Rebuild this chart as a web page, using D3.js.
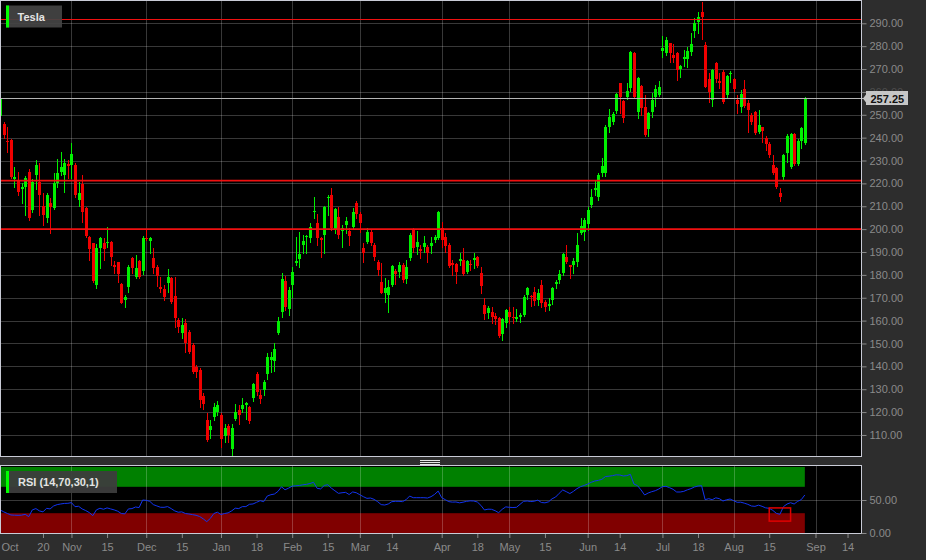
<!DOCTYPE html>
<html><head><meta charset="utf-8">
<script src="https://cdn.jsdelivr.net/npm/d3@7"></script>
<style>
html,body{margin:0;padding:0;background:#2d2d2d;}
svg{display:block;font-family:"Liberation Sans",Arial,Helvetica,sans-serif;}
</style></head><body>
<svg id="chart" width="926" height="560"></svg>
<script>
// ---------------- DATA ----------------
const symbolName = "Tesla";
const rsiName = "RSI (14,70,30,1)";
const firstDay = "2022-10-03";
const holidays = ["2022-11-24","2022-12-26","2023-01-02","2023-01-16","2023-02-20","2023-04-07","2023-05-29","2023-06-19","2023-07-04"];

const open = [254.5,249.5,245.8,238.6,239.0,221.8,221.5,217.4,218.6,225.1,
208.4,223.7,220.7,210.1,204.7,211.3,209.1,220.0,225.1,223.7,
228.4,228.0,228.0,212.7,219.7,209.1,196.7,193.8,175.6,191.6,
194.1,193.8,194.5,184.3,185.5,176.0,168.8,174.8,187.2,179.2,
186.1,181.8,196.3,194.9,187.5,183.6,174.8,173.7,176.3,178.5,
170.8,160.3,154.5,158.8,155.2,149.3,139.8,138.4,127.0,116.5,
112.1,117.7,119.9,118.7,109.5,114.1,103.7,117.1,121.0,121.5,
123.0,122.4,126.0,136.5,127.5,129.7,136.7,142.8,142.3,154.4,
163.9,177.5,164.9,175.6,185.0,187.0,193.0,196.5,196.3,207.5,
202.5,196.3,197.4,213.5,214.9,199.6,205.4,199.0,201.8,199.3,
201.1,211.6,206.5,191.6,194.5,198.9,193.1,185.8,176.7,172.2,
171.2,175.6,181.5,181.4,184.3,178.2,187.2,199.6,192.3,191.5,
192.3,192.3,192.6,195.2,196.0,200.3,196.4,193.1,185.0,184.8,
186.2,186.5,181.4,184.8,186.6,187.9,180.7,166.8,163.5,163.9,
162.0,161.0,154.2,159.1,163.9,161.6,160.5,161.4,162.4,171.2,
170.9,172.5,169.0,175.6,168.3,166.5,169.0,176.0,177.8,181.0,
188.0,184.2,184.3,185.8,198.5,198.9,202.1,210.6,217.3,214.2,
224.4,224.4,244.8,246.7,251.7,263.8,256.2,257.9,261.6,277.2,
251.0,262.6,253.3,243.6,251.4,257.6,258.7,278.0,277.2,281.2,
276.0,277.2,269.9,274.4,274.2,277.6,286.8,290.7,295.1,280.5,
265.5,256.5,272.8,264.8,268.9,258.7,267.8,265.5,256.5,253.5,
261.1,255.3,249.9,251.4,242.6,244.5,239.7,237.2,228.0,226.6,
215.6,222.6,233.4,227.0,241.5,228.5,238.7,237.8];

const high = [255.2,257.5,246.8,244.7,239.2,227.0,225.1,220.0,223.2,226.2,
221.8,230.2,228.8,215.7,215.7,213.5,224.4,230.5,233.9,230.5,
230.2,237.5,228.8,220.7,223.7,209.8,196.9,194.0,193.5,196.7,
196.0,201.1,194.7,186.2,185.8,176.6,171.2,184.3,187.9,188.7,
186.5,197.0,199.6,196.7,191.6,184.3,179.2,175.6,182.6,179.2,
179.2,161.0,161.0,160.6,155.9,150.0,140.6,139.1,128.5,119.7,
116.5,123.8,124.8,119.5,114.6,114.6,114.6,123.5,122.9,126.0,
124.5,122.7,132.6,137.7,129.7,134.0,145.7,146.4,150.1,161.7,
180.7,179.5,174.6,183.3,196.7,198.9,197.4,197.4,202.8,213.9,
206.5,196.7,210.1,214.9,217.8,209.1,209.8,201.8,205.2,200.3,
209.1,212.4,207.6,193.8,200.3,199.6,194.1,186.5,185.0,178.5,
177.8,184.3,182.4,185.8,185.0,186.5,198.4,200.6,199.3,193.1,
197.1,193.1,196.4,197.4,208.1,203.2,198.5,193.8,186.5,185.0,
189.4,191.6,186.5,186.5,189.7,188.2,183.6,169.7,166.4,166.1,
163.2,161.4,161.0,165.1,166.1,166.1,165.0,163.2,171.2,174.8,
171.2,174.8,173.7,177.8,169.0,169.7,174.8,177.8,182.1,189.4,
193.0,184.3,187.2,198.5,204.7,204.7,209.8,217.4,221.5,224.4,
231.0,245.5,252.4,251.4,259.7,264.0,256.5,263.8,278.0,277.6,
266.4,263.0,258.7,251.4,259.7,263.0,264.8,284.4,284.2,281.5,
280.9,277.6,271.8,278.3,279.8,285.6,292.2,295.1,299.5,281.7,
268.1,269.9,273.2,268.1,269.6,267.4,269.3,265.9,258.7,260.8,
265.2,256.5,250.6,251.8,252.1,244.8,240.7,238.3,232.4,227.3,
217.8,232.9,241.5,241.9,241.9,239.3,244.8,257.6];

const low = [241.0,241.2,240.0,233.9,222.2,218.5,214.9,211.6,206.2,204.0,
207.6,217.4,206.2,201.8,203.2,198.4,208.7,218.6,223.7,216.4,
222.2,222.2,214.2,210.1,203.2,196.7,186.5,177.0,174.1,182.9,
186.5,192.3,184.3,180.9,177.0,167.6,166.1,172.6,180.7,178.5,
178.5,180.4,195.2,189.7,180.7,175.3,172.6,169.0,172.6,167.6,
157.1,155.2,152.3,146.4,145.7,137.0,135.5,122.4,121.2,107.5,
108.5,116.5,118.7,104.9,107.1,107.1,101.2,116.5,115.0,120.2,
116.8,115.4,125.0,127.5,124.1,127.5,134.3,137.7,138.1,154.1,
161.7,164.6,162.4,170.5,184.3,183.6,189.7,189.7,194.5,204.7,
193.0,187.7,189.4,206.2,199.6,198.2,196.0,192.3,198.2,193.1,
200.3,204.7,198.9,185.8,193.8,193.1,186.5,180.0,171.9,168.3,
163.9,175.1,176.0,179.2,177.0,176.3,186.5,190.1,189.1,187.2,
190.1,185.5,189.4,194.5,195.5,192.3,190.1,183.6,179.9,176.3,
184.5,179.9,180.9,182.1,182.9,183.6,171.9,160.6,161.0,158.8,
158.5,152.7,151.5,157.4,158.8,158.8,159.8,159.5,161.9,169.3,
166.4,166.8,166.8,166.1,164.3,164.7,167.3,174.1,176.6,180.0,
185.0,178.5,180.7,183.9,197.9,195.2,199.6,209.8,214.9,212.7,
223.4,223.4,242.3,246.0,250.9,250.6,247.0,256.8,260.5,257.2,
248.4,249.9,240.7,240.7,248.9,253.9,258.2,275.1,276.1,273.2,
273.2,265.2,266.6,271.4,271.0,276.1,283.9,285.6,283.0,262.0,
255.7,253.8,264.5,261.6,255.0,257.9,264.5,260.5,250.6,251.4,
253.3,242.6,246.0,241.6,242.2,238.3,234.6,231.7,224.1,217.8,
212.5,221.5,229.5,226.6,228.1,228.1,235.3,237.2];

const close = [242.4,257.2,241.0,238.2,222.9,222.9,216.4,218.6,222.2,204.7,
220.7,228.0,214.9,206.2,214.9,209.8,220.0,224.7,227.0,228.8,
227.5,232.7,214.9,215.7,207.6,197.0,191.2,177.5,191.6,196.0,
191.2,194.5,187.7,183.3,180.4,167.8,170.2,183.6,183.1,182.9,
179.2,196.0,195.8,196.0,182.9,179.7,173.7,170.5,178.9,168.3,
161.0,157.3,158.1,150.1,146.4,137.7,137.7,125.3,123.5,107.8,
113.9,122.4,123.1,108.1,112.9,110.0,112.9,119.9,118.9,123.2,
124.1,116.3,132.1,128.6,125.6,133.3,143.9,144.2,147.6,160.0,
178.1,166.1,173.4,181.4,186.0,189.0,194.8,197.0,201.1,208.1,
196.3,195.2,209.8,214.2,200.3,208.7,197.4,200.5,203.7,197.0,
207.6,206.5,202.5,189.7,198.6,193.8,187.7,182.1,172.2,174.1,
174.5,183.9,180.4,184.3,177.8,183.3,197.4,191.6,194.5,190.5,
193.8,189.4,194.1,196.4,207.6,195.3,192.6,183.9,184.3,181.4,
186.8,180.4,186.2,184.3,187.2,184.0,175.1,162.9,165.4,161.7,
160.6,153.3,160.6,164.6,161.7,161.0,161.5,162.4,170.5,174.1,
170.4,168.5,172.2,167.8,166.1,167.3,174.1,177.0,180.2,189.0,
185.8,183.6,186.2,193.1,201.4,204.0,208.4,213.9,217.8,223.5,
227.8,244.8,248.9,250.4,259.1,257.6,248.4,260.5,277.6,257.9,
266.0,252.8,241.2,250.9,256.5,261.1,262.3,279.0,282.7,277.2,
274.8,269.6,271.3,275.2,278.0,280.9,290.3,292.6,292.6,262.3,
260.1,269.6,265.5,263.8,255.7,266.9,268.4,261.1,254.7,259.1,
253.8,252.1,247.0,241.9,245.5,243.1,237.2,232.4,224.7,218.3,
213.9,232.4,240.7,241.5,228.5,238.7,244.1,257.25];

const rsi = [35.5,34.9,32.0,29.5,27.3,27.0,26.8,27.0,28.3,24.8,
35.0,37.0,33.5,32.0,37.4,36.5,41.0,43.0,44.0,44.8,
45.0,46.0,39.9,40.5,36.5,34.0,31.0,26.3,35.0,37.5,
36.0,38.0,36.5,35.0,33.0,29.5,29.0,36.5,37.0,39.4,
38.5,50.0,49.5,48.0,43.0,41.0,39.0,38.9,40.0,37.0,
33.5,31.5,32.0,29.5,28.8,27.8,26.8,25.0,21.5,17.2,
22.0,29.5,31.5,28.0,29.5,30.5,33.5,37.6,37.0,40.0,
40.0,43.5,44.0,46.5,49.0,47.5,56.0,58.0,59.0,63.0,
70.0,65.5,68.0,71.0,71.5,72.0,73.0,73.7,75.0,76.8,
67.7,66.8,72.0,73.2,68.0,64.0,60.1,61.0,61.6,58.3,
62.2,61.0,58.0,55.0,52.5,53.0,51.0,47.5,43.0,42.4,
44.0,47.5,48.0,48.0,47.5,50.5,56.0,53.5,53.5,53.5,
53.5,53.0,55.0,58.5,63.5,53.5,50.5,47.5,46.8,47.0,
45.7,46.7,48.0,48.7,48.5,47.0,41.9,34.9,36.1,35.9,
33.8,30.8,35.9,39.6,38.9,38.6,38.9,43.4,48.0,48.5,
47.7,48.2,49.8,46.2,45.7,47.2,51.8,54.5,60.1,65.2,
62.6,59.8,63.1,67.2,70.2,72.0,74.2,76.8,78.8,79.8,
81.3,85.6,86.1,86.9,88.1,87.9,86.4,86.9,88.9,74.2,
71.7,65.2,57.6,60.6,62.6,64.1,66.7,70.2,70.7,68.7,
66.2,62.1,62.1,63.1,65.4,67.2,69.7,71.2,71.7,50.5,
52.0,50.5,53.3,52.0,48.5,50.3,51.5,49.0,46.5,46.7,
45.2,43.4,40.9,40.4,42.2,40.4,38.1,37.4,34.3,29.8,
28.3,39.9,43.9,45.9,43.9,48.0,50.5,57.6];

const priceTicks = [110,120,130,140,150,160,170,180,190,200,210,220,230,240,250,260,270,280,290];
const rsiTicks = [0, 50];
const rsiLevels = [30, 70];
const priceLevels = [291.75, 221.2, 200];
const lastPrice = 257.25;
const tickDates = ["2022-10-03","2022-10-20","2022-11-01","2022-11-15","2022-12-01","2022-12-15",
  "2023-01-03","2023-01-18","2023-02-01","2023-02-15","2023-03-01","2023-03-14","2023-04-03","2023-04-18",
  "2023-05-01","2023-05-15","2023-06-01","2023-06-14","2023-07-03","2023-07-18","2023-08-01","2023-08-15",
  "2023-09-01","2023-09-14"];
const tickLabels = ["Oct","20","Nov","15","Dec","15","Jan","18","Feb","15","Mar","14","Apr","18",
  "May","15","Jun","14","Jul","18","Aug","15","Sep","14"];
const monthStarts = ["2022-11-01","2022-12-01","2023-01-03","2023-02-01","2023-03-01","2023-04-03",
  "2023-05-01","2023-06-01","2023-07-03","2023-08-01","2023-09-01"];
const signalBox = {from: "2023-08-15", to: "2023-08-23", lo: 18, hi: 38};

// ---------------- LAYOUT / STYLE ----------------
const main = {left: 0, right: 861, top: 1, bottom: 456};
const sub = {top: 466, bottom: 534};
const UP = "#00f000", DOWN = "#f00000";
const GRID = "#ffffff", GRID_OP = 0.22;
const AXIS_TXT = "#8a8a8a";
const BORDER = "#c9cbd6";

function tradingDays(startISO, count, skip) {
  const out = []; const d = new Date(startISO + "T00:00:00Z");
  while (out.length < count) {
    const dow = d.getUTCDay(); const iso = d.toISOString().slice(0, 10);
    if (dow !== 0 && dow !== 6 && !skip.includes(iso)) out.push(iso);
    d.setUTCDate(d.getUTCDate() + 1);
  }
  return out;
}
const days = tradingDays(firstDay, 250, holidays);
const dayIdx = new Map(days.map((d, i) => [d, i]));
const idx = d3.range(close.length);

const svg = d3.select("#chart");
svg.append("rect").attr("width", 926).attr("height", 560).attr("fill", "#2d2d2d");

const x = d3.scaleLinear().domain([0.927, 242.78]).range([main.left, main.right]);
const y = d3.scaleLinear().domain([100.8, 299.75]).range([main.bottom, main.top]);
const yr = d3.scaleLinear().domain([0, 100]).range([533, 467]);

const defs = svg.append("defs");
defs.append("clipPath").attr("id", "clipMain").append("rect")
  .attr("x", main.left + 1).attr("y", main.top).attr("width", main.right - main.left - 1).attr("height", main.bottom - main.top);
defs.append("clipPath").attr("id", "clipSub").append("rect")
  .attr("x", main.left + 1).attr("y", sub.top).attr("width", main.right - main.left - 1).attr("height", sub.bottom - sub.top);

// ---------- main panel ----------
svg.append("rect").attr("x", main.left).attr("y", main.top).attr("width", main.right - main.left)
  .attr("height", main.bottom - main.top).attr("fill", "#000");

const gm = svg.append("g").attr("clip-path", "url(#clipMain)");
const px = v => Math.round(x(v));

gm.append("g").selectAll("line").data(priceTicks).join("line")
  .attr("x1", main.left).attr("x2", main.right)
  .attr("y1", d => Math.round(y(d)) + 0.5).attr("y2", d => Math.round(y(d)) + 0.5)
  .attr("stroke", GRID).attr("stroke-opacity", GRID_OP);
gm.append("g").selectAll("line").data(monthStarts).join("line")
  .attr("x1", d => px(dayIdx.get(d)) + 0.5).attr("x2", d => px(dayIdx.get(d)) + 0.5)
  .attr("y1", main.top).attr("y2", main.bottom)
  .attr("stroke", GRID).attr("stroke-opacity", GRID_OP);

// candles
const cg = gm.append("g").attr("shape-rendering", "crispEdges");
cg.selectAll("line").data(idx).join("line")
  .attr("x1", i => px(i) + 0.5).attr("x2", i => px(i) + 0.5)
  .attr("y1", i => Math.round(y(high[i]))).attr("y2", i => Math.round(y(low[i])) + 1)
  .attr("stroke", i => close[i] >= open[i] ? UP : DOWN).attr("stroke-width", 1);
cg.selectAll("rect").data(idx).join("rect")
  .attr("x", i => px(i) - 1).attr("width", 3)
  .attr("y", i => Math.round(y(Math.max(open[i], close[i]))))
  .attr("height", i => Math.max(1, Math.round(y(Math.min(open[i], close[i]))) - Math.round(y(Math.max(open[i], close[i])))))
  .attr("fill", i => close[i] >= open[i] ? UP : DOWN);

// horizontal levels
gm.append("g").selectAll("line").data(priceLevels).join("line")
  .attr("x1", main.left).attr("x2", main.right)
  .attr("y1", (d, k) => k === 0 ? Math.round(y(d)) + 0.5 : y(d))
  .attr("y2", (d, k) => k === 0 ? Math.round(y(d)) + 0.5 : y(d))
  .attr("stroke", "#f01010").attr("stroke-width", (d, k) => k === 0 ? 1 : 1.6);
gm.append("line").attr("x1", main.left).attr("x2", main.right)
  .attr("y1", Math.round(y(lastPrice)) + 0.5).attr("y2", Math.round(y(lastPrice)) + 0.5)
  .attr("stroke", "#b4b4b4").attr("stroke-width", 1);

svg.append("rect").attr("x", main.left + 0.5).attr("y", 0.5).attr("width", main.right - main.left)
  .attr("height", main.bottom).attr("fill", "none").attr("stroke", BORDER);

// price axis
const yAxis = d3.axisRight(y).tickValues(priceTicks).tickFormat(d3.format(".2f")).tickSize(5).tickPadding(3);
const ya = svg.append("g").attr("transform", `translate(${main.right + 0.5},0)`).call(yAxis);
ya.select(".domain").remove();
ya.selectAll("line").attr("stroke", AXIS_TXT);
ya.selectAll("text").attr("fill", AXIS_TXT).attr("font-size", 11).attr("font-family", "Liberation Sans, Arial, sans-serif");

// last price tag (covers the label behind it, as in the original)
const lpY = Math.round(y(lastPrice)) + 0.5;
ya.selectAll(".tick").filter(d => Math.abs(y(d) - lpY) < 9).select("text").attr("fill-opacity", 0.35);
const lp = svg.append("g").attr("transform", `translate(${main.right + 1},${lpY})`);
lp.append("line").attr("x1", 0).attr("x2", 3).attr("y1", 0).attr("y2", 0).attr("stroke", "#b4b4b4");
lp.append("path").attr("d", "M1,0 L4,-4 L4,4 Z").attr("fill", "#c6c6c6");
lp.append("rect").attr("x", 4).attr("y", -7.5).attr("width", 42).attr("height", 14).attr("fill", "#c6c6c6");
lp.append("text").attr("x", 8.5).attr("y", 4).attr("font-size", 11).attr("font-weight", "bold")
  .attr("fill", "#111").text(d3.format(".2f")(lastPrice));

// label box
const lb = svg.append("g");
lb.append("rect").attr("x", 6).attr("y", 5.5).attr("width", 56).attr("height", 22).attr("fill", "#444").attr("fill-opacity", 0.92);
lb.append("rect").attr("x", 6).attr("y", 5.5).attr("width", 3).attr("height", 22).attr("fill", "#00ff00");
lb.append("text").attr("x", 17.5).attr("y", 21).attr("font-size", 11).attr("font-weight", "bold").attr("fill", "#e4e4e4").text(symbolName);

// separator handle
[460, 462, 464].forEach(v => svg.append("rect").attr("x", 420).attr("y", v).attr("width", 20).attr("height", 1).attr("fill", "#e6e6e6"));

// ---------- RSI panel ----------
svg.append("rect").attr("x", main.left).attr("y", sub.top).attr("width", main.right - main.left)
  .attr("height", sub.bottom - sub.top).attr("fill", "#000");
const gs = svg.append("g").attr("clip-path", "url(#clipSub)");
const x0 = x(0), x1 = x(close.length - 1);
gs.append("rect").attr("x", x0).attr("width", x1 - x0).attr("y", yr(100)).attr("height", yr(rsiLevels[1]) - yr(100)).attr("fill", "#008000");
gs.append("rect").attr("x", x0).attr("width", x1 - x0).attr("y", yr(rsiLevels[0])).attr("height", yr(0) - yr(rsiLevels[0])).attr("fill", "#800000");
gs.append("g").selectAll("line").data(monthStarts).join("line")
  .attr("x1", d => px(dayIdx.get(d)) + 0.5).attr("x2", d => px(dayIdx.get(d)) + 0.5)
  .attr("y1", sub.top).attr("y2", sub.bottom)
  .attr("stroke", GRID).attr("stroke-opacity", GRID_OP);
gs.append("line").attr("x1", main.left).attr("x2", main.right)
  .attr("y1", Math.round(yr(50)) + 0.5).attr("y2", Math.round(yr(50)) + 0.5)
  .attr("stroke", GRID).attr("stroke-opacity", GRID_OP);
gs.append("path").datum(idx)
  .attr("d", d3.line().x(i => x(i)).y(i => yr(rsi[i])))
  .attr("fill", "none").attr("stroke", "#1234f0").attr("stroke-width", 1);
gs.append("rect")
  .attr("x", x(dayIdx.get(signalBox.from))).attr("y", yr(signalBox.hi))
  .attr("width", x(dayIdx.get(signalBox.to)) - x(dayIdx.get(signalBox.from)))
  .attr("height", yr(signalBox.lo) - yr(signalBox.hi))
  .attr("fill", "none").attr("stroke", "#e00000").attr("stroke-width", 1.5);

svg.append("rect").attr("x", main.left + 0.5).attr("y", sub.top - 0.5).attr("width", main.right - main.left)
  .attr("height", sub.bottom - sub.top).attr("fill", "none").attr("stroke", BORDER);

const rb = svg.append("g");
rb.append("rect").attr("x", 6).attr("y", 471).attr("width", 111).attr("height", 22).attr("fill", "#3c3c3c").attr("fill-opacity", 0.95);
rb.append("rect").attr("x", 6).attr("y", 471).attr("width", 3).attr("height", 22).attr("fill", "#00ff00");
rb.append("text").attr("x", 18).attr("y", 486).attr("font-size", 11).attr("font-weight", "bold").attr("fill", "#e4e4e4").text(rsiName);

const rAxis = d3.axisRight(yr).tickValues(rsiTicks).tickFormat(d3.format(".2f")).tickSize(5).tickPadding(3);
const ra = svg.append("g").attr("transform", `translate(${main.right + 0.5},0)`).call(rAxis);
ra.select(".domain").remove();
ra.selectAll("line").attr("stroke", AXIS_TXT);
ra.selectAll("text").attr("fill", AXIS_TXT).attr("font-size", 11).attr("font-family", "Liberation Sans, Arial, sans-serif");

// time axis
const tickIdx = tickDates.map(d => dayIdx.get(d));
const xAxis = d3.axisBottom(x).tickValues(tickIdx).tickFormat((d, k) => tickLabels[k]).tickSize(4).tickPadding(5);
const xa = svg.append("g").attr("transform", `translate(0,${sub.bottom})`).call(xAxis);
xa.select(".domain").remove();
xa.selectAll("line").attr("stroke", AXIS_TXT);
xa.selectAll("text").attr("fill", AXIS_TXT).attr("font-size", 11).attr("font-family", "Liberation Sans, Arial, sans-serif");
xa.selectAll(".tick").each(function (d) {
  const t = d3.select(this).select("text");
  const w = this.querySelector("text").getComputedTextLength();
  if (x(d) - w / 2 < 1) t.attr("text-anchor", "start").attr("x", 1 - x(d));
});
</script>
</body></html>
